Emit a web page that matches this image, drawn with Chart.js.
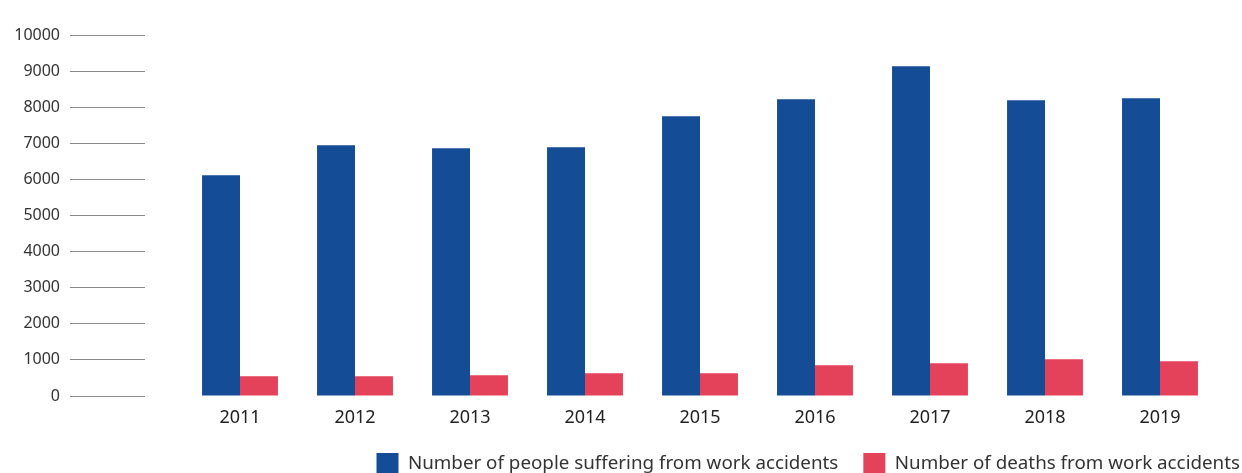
<!DOCTYPE html>
<html>
<head>
<meta charset="utf-8">
<script src="https://cdn.jsdelivr.net/npm/chart.js@4/dist/chart.umd.min.js"></script>
<style>
  html, body { margin: 0; padding: 0; background: #fff; }
  #wrap { width: 1242px; height: 473px; position: relative; }
</style>
</head>
<body>
<div id="wrap"><canvas id="bar-chart"></canvas></div>
<script>
const years = ["2011", "2012", "2013", "2014", "2015", "2016", "2017", "2018", "2019"]
const injured = [6115, 6945, 6860, 6890, 7750, 8220, 9135, 8190, 8245]
const deaths = [546, 546, 575, 630, 630, 850, 905, 1015, 965]
const seriesNames = ["Number of people suffering from work accidents", "Number of deaths from work accidents"]

const font = "'Noto Sans', 'Open Sans', sans-serif"

const ctx = document.querySelector("#bar-chart").getContext("2d")
const chart = new Chart(ctx, {
  type: "bar",
  data: {
    labels: years,
    datasets: [
      {
        label: seriesNames[0],
        data: injured,
        backgroundColor: "#144c96",
        categoryPercentage: 0.66,
        barPercentage: 1,
      },
      {
        label: seriesNames[1],
        data: deaths,
        backgroundColor: "#e4425a",
        categoryPercentage: 0.66,
        barPercentage: 1,
      },
    ],
  },
  options: {
    responsive: true,
    maintainAspectRatio: false,
    animation: false,
    layout: { padding: { top: 35, right: -23, bottom: -12, left: 0 } },
    plugins: {
      tooltip: { enabled: false },
      legend: {
        position: "bottom",
        align: "end",
        labels: {
          boxWidth: 22,
          boxHeight: 22,
          padding: 25,
          color: "#333",
          font: { family: font, size: 18.8 },
        },
      },
    },
    scales: {
      x: {
        grid: { display: false, drawTicks: false },
        border: { display: false },
        ticks: { color: "#222", padding: 11, font: { family: font, size: 18 } },
        afterFit: (s) => { s.height = 32 },
      },
      y: {
        weight: 1,
        min: 0,
        max: 10000,
        border: { display: false },
        grid: { drawOnChartArea: false, drawTicks: true, tickLength: 75, color: "#8a8a8a" },
        ticks: {
          stepSize: 1000,
          padding: 10,
          color: "#333",
          font: { family: font, size: 16 },
          callback: (v) => String(v),
        },
        afterFit: (s) => { s.width = 145 },
      },
      // empty axes only used to leave room around the plot
      padL: {
        type: "linear",
        position: "left",
        weight: 0,
        grid: { display: false },
        border: { display: false },
        ticks: { display: false },
        afterFit: (s) => { s.width = 37.5 },
      },
      padR: {
        type: "linear",
        position: "right",
        grid: { display: false },
        border: { display: false },
        ticks: { display: false },
        afterFit: (s) => { s.width = 47.5 },
      },
    },
  },
})
</script>
</body>
</html>
